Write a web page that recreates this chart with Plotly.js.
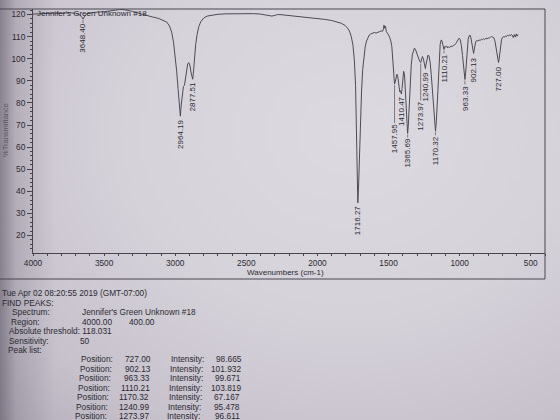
<!DOCTYPE html>
<html><head><meta charset="utf-8">
<script src="https://cdn.plot.ly/plotly-3.0.1.min.js"></script>
<style>
html,body{margin:0;padding:0;width:560px;height:420px;overflow:hidden;}
body{background:
 linear-gradient(to right, rgba(70,64,80,0.50) 0px, rgba(70,64,80,0.18) 16px, rgba(70,64,80,0) 55px),
 radial-gradient(ellipse at 62% 32%, #dcd9e0 0%, #d6d2da 45%, #c6c1cb 80%, #b3aeb9 100%);}
#chart{width:560px;height:420px;}
</style></head><body><div id="chart"></div>
<script>
// ---------- spectrum data ----------
const wavenumbers = [4000,3950,3900,3850,3800,3750,3700,3670,3655,3648,3640,3620,3580,3540,3500,3460,3420,3390,3360,3330,3300,3270,3240,3200,3160,3120,3090,3060,3040,3025,3012,3000,2990,2980,2972,2964,2957,2950,2942,2935,2928,2920,2912,2904,2896,2888,2882,2877,2871,2864,2856,2846,2834,2820,2800,2775,2740,2700,2650,2600,2550,2500,2450,2400,2350,2320,2300,2280,2250,2200,2150,2100,2050,2000,1950,1900,1860,1830,1805,1790,1775,1762,1750,1740,1732,1726,1721,1716,1711,1705,1698,1690,1682,1673,1664,1655,1645,1635,1625,1612,1600,1588,1575,1562,1550,1542,1536,1532,1528,1522,1515,1508,1500,1492,1484,1477,1470,1464,1458,1453,1447,1441,1435,1428,1421,1416,1410,1405,1400,1394,1388,1382,1376,1371,1366,1361,1355,1348,1340,1332,1325,1318,1310,1300,1290,1281,1274,1268,1262,1256,1250,1245,1241,1236,1230,1223,1216,1208,1200,1192,1184,1177,1170,1164,1158,1151,1144,1137,1130,1124,1117,1110,1104,1098,1092,1085,1078,1070,1062,1053,1045,1036,1028,1020,1012,1004,996,988,980,972,967,963,958,952,946,940,934,927,921,915,910,906,902,898,893,887,880,872,864,856,848,840,832,824,816,808,800,792,784,776,768,760,752,745,739,734,730,727,723,718,712,706,700,693,686,679,672,665,658,651,644,637,630,623,616,609,602,596,590];
const transmittance = [120.2,120.4,120.3,120.6,120.5,120.8,120.6,119.8,118.6,117.9,118.9,120.4,120.9,121.0,121.3,121.6,122.0,122.3,122.2,121.9,121.4,120.8,120.2,119.6,118.9,118.3,117.6,116.6,114.8,112.0,107.5,101.5,94.5,86.5,79.0,74.0,79.5,85.0,87.5,88.0,91.0,95.5,97.8,98.2,96.8,93.5,91.2,90.7,94.5,101.0,106.5,111.0,114.6,116.8,118.4,119.3,119.8,120.1,120.3,120.4,120.5,120.5,120.4,120.2,119.8,119.3,119.6,120.0,119.9,119.6,119.2,118.9,118.6,118.2,117.8,117.3,116.7,116.0,115.0,114.0,112.5,110.0,106.0,99.0,88.0,72.0,52.0,34.8,42.0,56.0,72.0,85.0,95.0,101.5,105.5,108.0,109.8,110.8,111.2,111.5,111.9,111.6,112.1,112.3,112.6,112.4,113.5,115.2,113.8,114.8,112.2,111.6,110.8,109.5,108.0,105.5,99.5,92.0,88.5,89.5,92.4,93.0,91.8,88.5,85.0,85.5,84.0,86.5,91.0,94.3,93.0,86.0,76.0,68.5,66.2,70.0,80.0,90.0,97.5,102.0,104.2,104.8,104.0,102.0,100.0,98.8,98.3,100.2,101.0,100.2,98.0,96.2,95.5,97.5,100.3,101.6,101.3,98.5,93.0,85.0,76.0,69.5,67.2,71.5,81.0,92.0,101.0,106.5,108.5,108.0,106.0,104.2,105.6,105.2,105.8,104.9,105.4,105.1,105.7,105.5,106.0,106.2,106.8,107.8,108.8,109.3,108.6,106.0,101.5,95.5,92.0,90.6,93.5,100.0,105.5,108.8,110.3,110.7,109.5,107.0,104.5,102.8,102.4,104.0,106.5,107.8,108.2,108.0,108.5,108.3,108.8,108.6,109.0,108.7,109.2,109.0,109.4,109.3,109.7,110.0,109.8,109.5,108.0,105.0,102.0,99.8,98.6,98.3,99.5,102.5,106.0,108.5,109.5,110.0,109.7,110.3,110.0,110.6,110.3,110.8,110.4,111.0,110.6,109.6,110.9,109.8,111.2,110.2,111.0];

// labelled peaks
const peakPositions = [3648.40,2964.19,2877.51,1716.27,1457.95,1410.47,1365.69,1273.97,1240.99,1170.32,1110.21,963.33,902.13,727.00];
const peakDepths    = [117.9,74.0,90.7,34.8,88.5,84.0,66.2,98.3,95.5,67.2,104.2,90.6,102.4,98.3];

// axis ticks
const xTickValues = [4000,3500,3000,2500,2000,1500,1000,500];
const yTickValues = [20,30,40,50,60,70,80,90,100,110,120];

// text report
const spectrumName = "Jennifer's Green Unknown #18";
const reportDate = "Tue Apr 02 08:20:55 2019 (GMT-07:00)";
const regionStart = "4000.00";
const regionEnd = "400.00";
const absThreshold = "118.031";
const sensitivity = "50";
const listPositions = ["727.00","902.13","963.33","1110.21","1170.32","1240.99","1273.97"];
const listIntensities = ["98.665","101.932","99.671","103.819","67.167","95.478","96.611"];

// ---------- layout helpers ----------
const FONT = "Liberation Sans, Arial, Helvetica, sans-serif";
const INK = "#2c2a31";
const L = 33, R = 545, T = 9, B = 253;
const PX = x => (x - L) / (R - L);
const PY = y => (B - y) / (B - T);
const labelGap = [3,2,1,1,38,1,3,37,2,3,3,4,2,2];

function txt(text, x, y, anchor, size, color) {
  return {xref:'paper', yref:'paper', x:PX(x), y:PY(y), text:text, showarrow:false,
    xanchor:anchor || 'left', yanchor:'middle', borderpad:0,
    font:{family:FONT, size:size || 8.3, color:color || INK}};
}

const annotations = [];
const shapes = [];

peakPositions.forEach((p, i) => {
  annotations.push({x:p, y:peakDepths[i], xref:'x', yref:'y', text:p.toFixed(2),
    textangle:-90, showarrow:false, xanchor:'center', yanchor:'top', yshift:-labelGap[i] - 1,
    borderpad:0, font:{family:FONT, size:8, color:INK}});
  if (labelGap[i] > 2) {
    shapes.push({type:'line', xref:'x', yref:'y', ysizemode:'pixel', yanchor:peakDepths[i],
      x0:p, x1:p, y0:-1, y1:-labelGap[i] - 1, line:{color:'#55525b', width:0.7}});
  }
});

annotations.push(txt(spectrumName, 36, 13, 'left', 8));
annotations.push(txt("Wavenumbers (cm-1)", 285, 272.5, 'center', 8));
annotations.push({xref:'paper', yref:'paper', x:PX(5), y:PY(130), text:"%Transmittance",
  textangle:-90, showarrow:false, xanchor:'center', yanchor:'middle', borderpad:0,
  font:{family:FONT, size:7.5, color:'#5a5660'}});

annotations.push(txt(reportDate, 0.5, 293));
annotations.push(txt("FIND PEAKS:", 0.5, 302.5));
annotations.push(txt("Spectrum:", 10.5, 312));
annotations.push(txt(spectrumName, 81, 312));
annotations.push(txt("Region:", 10, 321.5));
annotations.push(txt(regionStart, 81, 321.5));
annotations.push(txt(regionEnd, 128, 321.5));
annotations.push(txt("Absolute threshold: " + absThreshold, 8, 331));
annotations.push(txt("Sensitivity:", 8, 340.5));
annotations.push(txt(sensitivity, 79, 340.5));
annotations.push(txt("Peak list:", 7, 350));
listPositions.forEach((p, i) => {
  const y = 359 + i * 9.55;
  annotations.push(txt("Position:", 80 - i * 1.0, y));
  annotations.push(txt(p, 152 - i * 0.4, y, 'right'));
  annotations.push(txt("Intensity:", 170 - i * 0.6, y));
  annotations.push(txt(listIntensities[i], 242.5 - i * 0.3, y, 'right'));
});

// outer frame of the printout
const frame = {color:'#4a4750', width:1};
const yBox = PY(279);
shapes.push({type:'line', xref:'paper', yref:'paper', x0:PX(-2), x1:1, y0:1, y1:1, line:frame});
shapes.push({type:'line', xref:'paper', yref:'paper', x0:1, x1:1, y0:1, y1:yBox, line:frame});
shapes.push({type:'line', xref:'paper', yref:'paper', x0:PX(-2), x1:1, y0:yBox, y1:yBox, line:frame});

const trace = {x:wavenumbers, y:transmittance, type:'scatter', mode:'lines',
  line:{color:'#4e4b56', width:1}, hoverinfo:'skip'};

const layout = {
  width:560, height:420,
  margin:{l:L, r:560 - R, t:T, b:420 - B, pad:0},
  paper_bgcolor:'rgba(0,0,0,0)', plot_bgcolor:'rgba(0,0,0,0)',
  showlegend:false,
  xaxis:{range:[4000,400], tickvals:xTickValues, ticktext:xTickValues.map(String),
    ticks:'outside', ticklen:2, tickwidth:1, tickcolor:'#47444d',
    showline:true, linecolor:'#47444d', linewidth:1, showgrid:false, zeroline:false,
    minor:{dtick:100, tick0:0, ticks:'outside', ticklen:1.5, tickcolor:'#47444d'},
    tickfont:{family:FONT, size:8.3, color:INK}},
  yaxis:{range:[12.1,122.5], tickvals:yTickValues, ticktext:yTickValues.map(String),
    ticks:'outside', ticklen:5, tickwidth:1, tickcolor:'#47444d',
    showline:true, linecolor:'#47444d', linewidth:1, showgrid:false, zeroline:false,
    minor:{dtick:2, tick0:0, ticks:'outside', ticklen:2.5, tickcolor:'#47444d'},
    tickfont:{family:FONT, size:8.3, color:INK}},
  annotations:annotations,
  shapes:shapes
};

Plotly.newPlot('chart', [trace], layout, {displayModeBar:false, staticPlot:true});
</script></body></html>
